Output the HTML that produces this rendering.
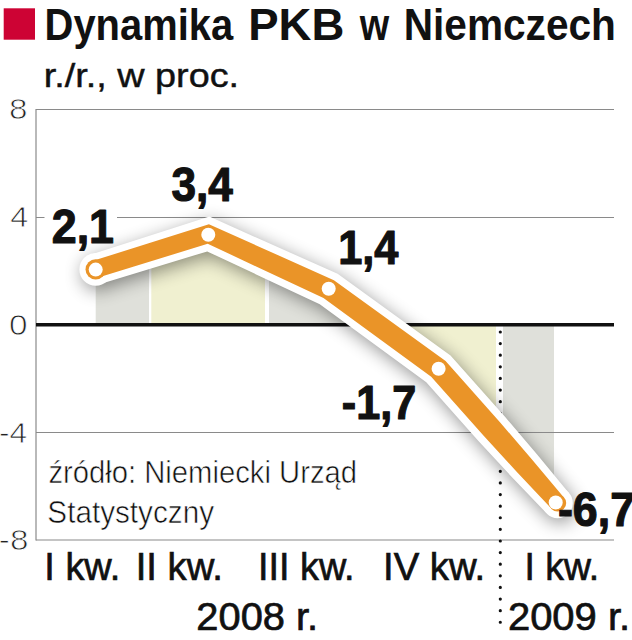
<!DOCTYPE html>
<html lang="pl">
<head>
<meta charset="utf-8">
<title>Dynamika PKB w Niemczech</title>
<style>
  html, body { margin: 0; padding: 0; background: #ffffff; }
  body { width: 632px; height: 640px; overflow: hidden; font-family: "Liberation Sans", sans-serif; }
  svg { display: block; }
  text { font-family: "Liberation Sans", sans-serif; }
  .b { font-weight: bold; fill: #111; }
  .v { stroke: #111; stroke-width: 1.2; stroke-linejoin: round; }
  .ax { fill: #222; stroke: #fff; stroke-width: 0.8; paint-order: fill stroke; }
  .src { fill: #111; stroke: #fff; stroke-width: 0.6; paint-order: fill stroke; }
  .q { fill: #111; }
  .sb { stroke: #111; stroke-width: 0.45; }
  .xl { stroke: #111; stroke-width: 0.7; }
  .t { }
</style>
</head>
<body>
<svg width="632" height="640" viewBox="0 0 632 640">
  <defs>
    <filter id="sh" x="-10%" y="-10%" width="120%" height="120%">
      <feGaussianBlur stdDeviation="9"/>
    </filter>
    <g id="lnO"><polygon points="93.07,260.80 208.91,224.27 333.92,280.16 445.60,360.96 499.96,422.20 531.55,458.94 563.88,497.42 551.32,508.58 516.90,471.96 484.12,436.29 431.20,376.84 323.48,298.04 207.69,243.73 98.33,277.60"/><circle cx="95.70" cy="269.40" r="10.2"/><circle cx="557.60" cy="503.00" r="8.60"/></g>
    <g id="lnW"><polygon points="91.11,254.50 209.40,216.58 337.63,273.83 450.53,355.53 505.42,417.35 536.93,454.16 568.89,492.97 546.31,513.03 511.52,476.75 478.66,441.14 426.27,382.27 319.77,304.37 207.20,251.42 100.29,283.90"/><circle cx="95.70" cy="269.40" r="16.3"/><circle cx="557.60" cy="503.00" r="15.20"/></g>
  </defs>
  <rect x="0" y="0" width="632" height="640" fill="#ffffff"/>

  <!-- title -->
  <rect x="3.7" y="8.3" width="31.3" height="31.4" fill="#cd0334"/>
  <text id="t1" class="b t" x="44.56" y="39.6" font-size="44" textLength="188.63" lengthAdjust="spacingAndGlyphs">Dynamika</text>
  <text id="t2" class="b t" x="248.23" y="39.6" font-size="44" textLength="96.09" lengthAdjust="spacingAndGlyphs">PKB</text>
  <text id="t3" class="b t" x="359.79" y="39.6" font-size="44" textLength="29.42" lengthAdjust="spacingAndGlyphs">w</text>
  <text id="t4" class="b t" x="403.74" y="39.6" font-size="44" textLength="212.12" lengthAdjust="spacingAndGlyphs">Niemczech</text>
  <text id="sub" class="q sb" x="43.74" y="86.8" font-size="33.5" textLength="195.34" lengthAdjust="spacingAndGlyphs">r./r., w proc.</text>

  <!-- bars (area under the line) -->
  <polygon fill="#dfe0da" points="95.7,324.5 95.7,269 149,252 149,324.5"/>
  <polygon fill="#f0f0d0" points="151.3,324.5 151.3,251.5 208.3,234 265,259.5 265,324.5"/>
  <polygon fill="#dfe0da" points="269,324.5 269,261.5 328.7,288.7 377,324.5"/>
  <polygon fill="#f0f0d0" points="377,324.5 438.6,368.7 496,434.5 496,324.5"/>
  <polygon fill="#dfe0da" points="503,324.5 503,442.5 554,501 554,324.5"/>

  <!-- frame + grid -->
  <g stroke="#8a8a8a" stroke-width="1.2" fill="none">
    <line x1="36" y1="109" x2="36" y2="540.5"/>
    <line x1="36" y1="109.5" x2="614" y2="109.5"/>
    <line x1="36" y1="217.5" x2="614" y2="217.5"/>
    <line x1="36" y1="432.5" x2="614" y2="432.5"/>
    <line x1="36" y1="540" x2="614" y2="540"/>
  </g>
  <rect x="44.5" y="204" width="72.5" height="30" fill="#ffffff"/>

  <!-- zero line -->
  <line x1="36" y1="324.7" x2="614" y2="324.7" stroke="#111" stroke-width="3.5"/>

  <!-- dotted separator -->
  <line x1="500.3" y1="332" x2="500.3" y2="630" stroke="#111" stroke-width="3.2" stroke-linecap="round" stroke-dasharray="0 11.61"/>

  <!-- shadow -->
  <g filter="url(#sh)" transform="translate(2.5,4.5)" opacity="0.42" fill="#000">
    <use href="#lnW"/>
  </g>
  <!-- white outline -->
  <g fill="#ffffff">
    <use href="#lnW"/>
  </g>
  <!-- orange line -->
  <g fill="#ea9428">
    <use href="#lnO"/>
  </g>
  <g fill="#ffffff"><circle cx="95.70" cy="269.60" r="7.0"/><circle cx="208.30" cy="234.70" r="7.0"/><circle cx="328.70" cy="288.70" r="7.0"/><circle cx="438.60" cy="368.70" r="7.0"/><circle cx="555.70" cy="502.50" r="7.0"/></g>

  <!-- value labels -->
  <text id="v1" class="b v" x="51.75" y="242.5" font-size="49" textLength="62.28" lengthAdjust="spacingAndGlyphs">2,1</text>
  <text id="v2" class="b v" x="171.40" y="201" font-size="49" textLength="61.41" lengthAdjust="spacingAndGlyphs">3,4</text>
  <text id="v3" class="b v" x="338.16" y="264" font-size="49" textLength="60.26" lengthAdjust="spacingAndGlyphs">1,4</text>
  <text id="v4" class="b v" x="341.75" y="418.7" font-size="49" textLength="74.48" lengthAdjust="spacingAndGlyphs">-1,7</text>
  <text id="v5" class="b v" x="557.97" y="525.5" font-size="49" textLength="77.09" lengthAdjust="spacingAndGlyphs">-6,7</text>

  <!-- y axis labels -->
  <text id="a8" class="ax" x="8.98" y="119" font-size="29" textLength="18.51" lengthAdjust="spacingAndGlyphs">8</text>
  <text id="a4" class="ax" x="10.25" y="227" font-size="29" textLength="18.03" lengthAdjust="spacingAndGlyphs">4</text>
  <text id="a0" class="ax" x="9.01" y="335" font-size="29" textLength="18.53" lengthAdjust="spacingAndGlyphs">0</text>
  <text id="am4" class="ax" x="-1.06" y="442.5" font-size="29" textLength="28.20" lengthAdjust="spacingAndGlyphs">-4</text>
  <text id="am8" class="ax" x="-1.15" y="549.6" font-size="29" textLength="29.54" lengthAdjust="spacingAndGlyphs">-8</text>

  <!-- source -->
  <text id="s1" class="src" x="48.38" y="482.7" font-size="31.5" textLength="308.64" lengthAdjust="spacingAndGlyphs">źródło: Niemiecki Urząd</text>
  <text id="s2" class="src" x="47.37" y="523" font-size="31.5" textLength="166.64" lengthAdjust="spacingAndGlyphs">Statystyczny</text>

  <!-- x axis labels -->
  <text id="q1" class="q xl" x="44.32" y="580.0" font-size="39.6" textLength="75.91" lengthAdjust="spacingAndGlyphs">I kw.</text>
  <text id="q2" class="q xl" x="135.75" y="580.0" font-size="39.6" textLength="87.05" lengthAdjust="spacingAndGlyphs">II kw.</text>
  <text id="q3" class="q xl" x="258.01" y="580.0" font-size="39.6" textLength="96.58" lengthAdjust="spacingAndGlyphs">III kw.</text>
  <text id="q4" class="q xl" x="383.01" y="580.0" font-size="39.6" textLength="102.19" lengthAdjust="spacingAndGlyphs">IV kw.</text>
  <text id="q5" class="q xl" x="524.51" y="580.0" font-size="39.6" textLength="74.70" lengthAdjust="spacingAndGlyphs">I kw.</text>
  <text id="y8" class="q xl" x="196.35" y="630.2" font-size="38.8" textLength="121.77" lengthAdjust="spacingAndGlyphs">2008 r.</text>
  <text id="y9" class="q xl" x="507.91" y="630.2" font-size="38.8" textLength="122.22" lengthAdjust="spacingAndGlyphs">2009 r.</text>
</svg>
</body>
</html>
